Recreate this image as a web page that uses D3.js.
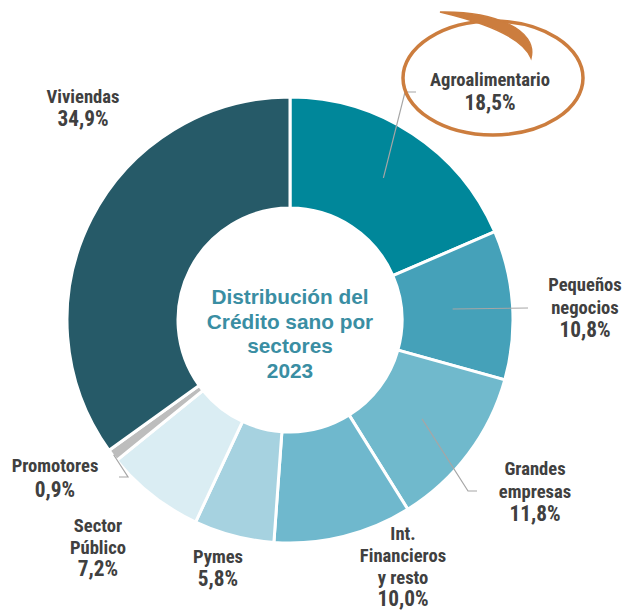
<!DOCTYPE html>
<html>
<head>
<meta charset="utf-8">
<script src="https://cdn.jsdelivr.net/npm/d3@7"></script>
<style>
  body { margin: 0; background: #fff; }
  text { font-weight: bold; }
  .lbl { font-family: "Roboto Condensed", "Arial Narrow", sans-serif; }
  .ttl { font-family: "Liberation Sans", Arial, sans-serif; }
</style>
</head>
<body>
<div id="chart"></div>
<script>
const sectors = ["Agroalimentario", "Pequeños negocios", "Grandes empresas", "Int. Financieros y resto",
  "Pymes", "Sector Público", "Promotores", "Viviendas"];
const shares = [18.5, 10.8, 11.8, 10.0, 5.8, 7.2, 0.9, 34.9];
const colors = ["#00879a", "#45a1b9", "#70b9cc", "#6fb8cd", "#a6d2e0", "#daedf3", "#bdbdbd", "#265a68"];
// label text lines per sector (value added as last line)
const labelLines = [["Agroalimentario"], ["Pequeños", "negocios"], ["Grandes", "empresas"],
  ["Int.", "Financieros", "y resto"], ["Pymes"], ["Sector", "Público"], ["Promotores"], ["Viviendas"]];
const titleLines = ["Distribución del", "Crédito sano por", "sectores", "2023"];

const width = 625, height = 612;
const cx = 290, cy = 320;
const outerR = 223, innerR = 112;

const svg = d3.select("#chart").append("svg")
  .attr("width", width).attr("height", height);

const data = sectors.map((s, i) => ({ name: s, value: shares[i], color: colors[i], lines: labelLines[i] }));

const pie = d3.pie().sort(null).value(d => d.value);
const arc = d3.arc().innerRadius(innerR).outerRadius(outerR);

const g = svg.append("g").attr("transform", `translate(${cx},${cy})`);
const arcs = pie(data);

g.selectAll("path.slice").data(arcs).enter().append("path")
  .attr("class", "slice")
  .attr("d", arc)
  .attr("fill", d => d.data.color)
  .attr("stroke", "#fff")
  .attr("stroke-width", 3);

// label placement (chart-specific)
const labelPos = [
  { x: 490, y: 80 }, { x: 585, y: 285 }, { x: 535, y: 469 }, { x: 403, y: 534 },
  { x: 218, y: 557 }, { x: 98, y: 526 }, { x: 55, y: 466 }, { x: 83, y: 97 }
];
const lineH = [24, 23, 23, 22, 23, 22, 25, 23];

// leader lines: start inside slice at given radius, elbow, end
const leaders = [
  { i: 0, r: 170, elbow: [405, 92], end: [416, 92] },
  { i: 1, r: 163, elbow: [528, 308], end: [528, 308] },
  { i: 2, r: 165, elbow: [468, 491], end: [477, 491] },
  { i: 6, r: 222, elbow: [128, 477], end: [119, 477] }
];
const leadersG = svg.append("g");
leaders.forEach(l => {
  const a = arcs[l.i];
  const mid = (a.startAngle + a.endAngle) / 2;
  const sx = cx + l.r * Math.sin(mid), sy = cy - l.r * Math.cos(mid);
  leadersG.append("polyline")
    .attr("points", [[sx, sy], l.elbow, l.end].map(p => p.join(",")).join(" "))
    .attr("fill", "none")
    .attr("stroke", "#a6a6a6")
    .attr("stroke-width", 1.2);
});

const fmt = v => d3.format(".1f")(v).replace(".", ",") + "%";

data.forEach((d, i) => {
  const t = svg.append("text")
    .attr("class", "lbl")
    .attr("text-anchor", "middle")
    .attr("fill", "#404040");
  const lines = d.lines.concat([fmt(d.value)]);
  lines.forEach((ln, k) => {
    t.append("tspan")
      .attr("x", labelPos[i].x)
      .attr("y", labelPos[i].y + k * lineH[i] + 6)
      .attr("font-size", k === lines.length - 1 ? 21.3 : 18.6)
      .text(ln);
  });
});

// centre title
const title = svg.append("text")
  .attr("class", "ttl")
  .attr("text-anchor", "middle")
  .attr("fill", "#3a8ea3")
  .attr("font-size", 20.8);
titleLines.forEach((ln, k) => {
  title.append("tspan").attr("x", cx).attr("y", 304 + k * 24.5).text(ln);
});

// hand-drawn orange circle around Agroalimentario
svg.append("ellipse")
  .attr("cx", 493).attr("cy", 78).attr("rx", 90).attr("ry", 57)
  .attr("fill", "none")
  .attr("stroke", "#cc7d3e")
  .attr("stroke-width", 3.5);
svg.append("path")
  .attr("d", "M 440 12 C 495 11, 538 30, 531 58 C 522 36, 482 22, 440 12 Z")
  .attr("fill", "#cc7d3e")
  .attr("stroke", "#cc7d3e")
  .attr("stroke-width", 1.5);
</script>
</body>
</html>
